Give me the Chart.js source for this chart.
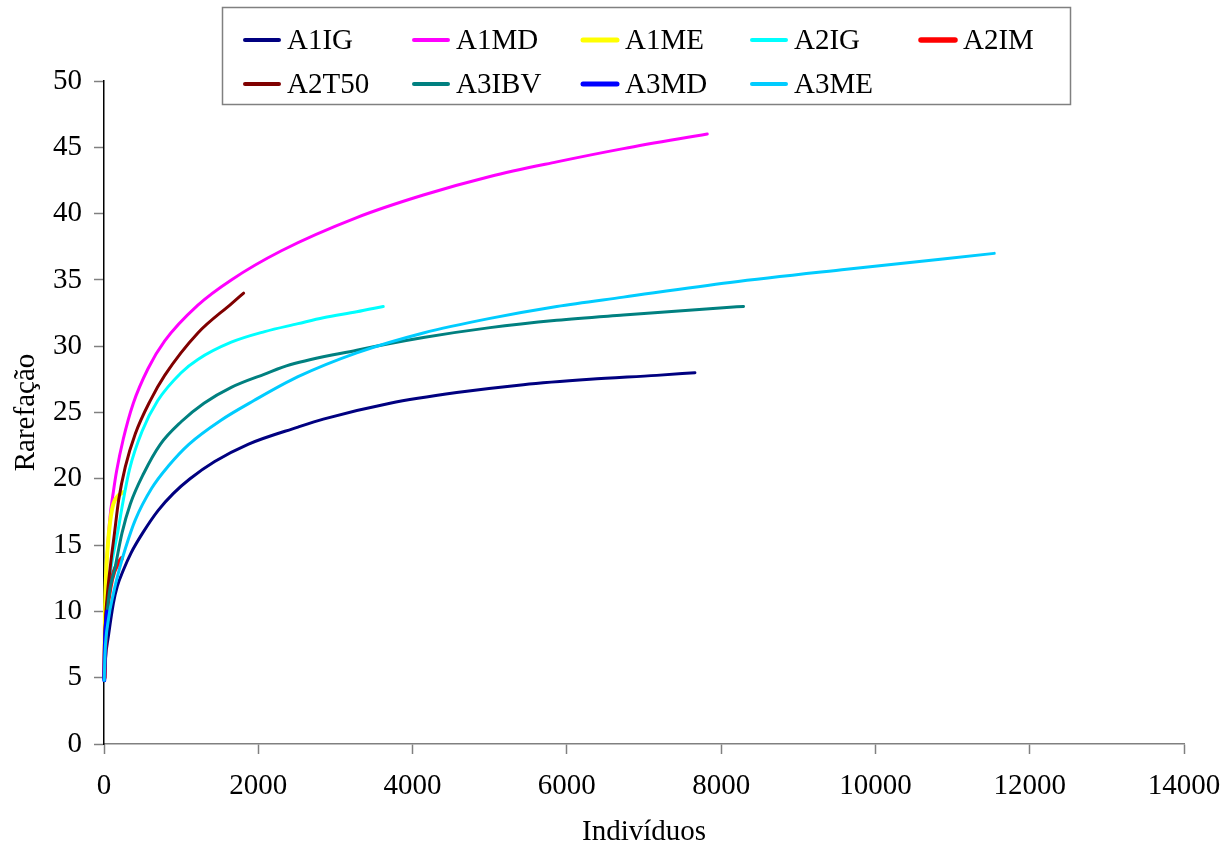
<!DOCTYPE html>
<html>
<head>
<meta charset="utf-8">
<script src="https://cdn.jsdelivr.net/npm/chart.js@4.4.1/dist/chart.umd.min.js"></script>
<style>
  html, body { margin: 0; padding: 0; background: #fff; }
  canvas { display: block; }
</style>
</head>
<body>
<canvas id="rarefactionChart" width="1224" height="847"></canvas>
<script>
// Series names, colours and line widths (legend order)
const seriesNames = ['A1IG', 'A1MD', 'A1ME', 'A2IG', 'A2IM', 'A2T50', 'A3IBV', 'A3MD', 'A3ME'];
const seriesColors = ['#000080', '#FF00FF', '#FFFF00', '#00FFFF', '#FF0000', '#800000', '#008080', '#0000FF', '#00CCFF'];
const seriesWidths = [3, 3, 4, 3, 4.5, 3, 3, 4, 3];

// Individuals (x) and rarefaction richness (y)
const a1igX = [5, 20, 56, 121, 173, 250, 350, 500, 700, 900, 1115, 1435, 1867, 2515, 2843, 3708, 4572, 5436, 6300, 7164, 7660];
const a1igY = [4.8, 6.5, 8.1, 10.6, 11.9, 13.1, 14.4, 15.9, 17.6, 18.9, 20.0, 21.3, 22.6, 23.9, 24.5, 25.7, 26.5, 27.1, 27.5, 27.8, 28.0];

const a1mdX = [5, 15, 35, 78, 121, 164, 250, 380, 570, 787, 1217, 1650, 2300, 3276, 4140, 5004, 5869, 6732, 7820];
const a1mdY = [5, 9.5, 13.5, 17.1, 19.0, 20.6, 23.0, 25.7, 28.3, 30.4, 33.1, 35.0, 37.2, 39.7, 41.4, 42.8, 43.9, 44.9, 46.0];

const a1meX = [5, 12, 25, 50, 80, 121, 180, 250];
const a1meY = [5, 9.5, 12.5, 15, 16.8, 18.1, 18.7, 19.0];

const a2igX = [5, 20, 50, 100, 179, 244, 330, 495, 697, 1000, 1217, 1650, 2083, 2515, 2843, 3276, 3620];
const a2igY = [5, 8.5, 11.3, 13.6, 16.0, 18.2, 20.7, 23.6, 25.9, 28.0, 29.0, 30.3, 31.1, 31.7, 32.15, 32.6, 33.0];

const a2imX = [5, 15, 40, 80, 130, 180, 230];
const a2imY = [5, 7.5, 10, 11.8, 13.0, 13.6, 14.0];

const a2t50X = [5, 15, 40, 82, 136, 190, 276, 406, 600, 787, 1217, 1650, 1810];
const a2t50Y = [5, 8.5, 11.0, 13.4, 15.9, 18.4, 20.9, 23.4, 25.9, 27.8, 31.0, 33.2, 34.0];

const a3ibvX = [5, 20, 60, 147, 233, 341, 514, 730, 1000, 1296, 1650, 2083, 2411, 3276, 4140, 5004, 5869, 6732, 8029, 8290];
const a3ibvY = [5, 8, 11, 13.4, 15.9, 18.1, 20.4, 22.6, 24.3, 25.7, 26.9, 27.9, 28.6, 29.7, 30.65, 31.4, 31.95, 32.35, 32.9, 33.0];

const a3mdX = [3, 8, 15, 25, 40];
const a3mdY = [4.8, 6.5, 8, 9, 10];

const a3meX = [3, 13, 56, 120, 200, 280, 406, 620, 840, 1100, 1512, 1944, 2515, 3276, 4140, 5004, 5869, 6732, 8115, 9627, 11540];
const a3meY = [4.8, 6.8, 9.35, 11.3, 13.2, 14.8, 16.9, 19.3, 21.0, 22.6, 24.4, 25.9, 27.7, 29.5, 31.0, 32.1, 33.0, 33.7, 34.8, 35.8, 37.0];

const seriesX = [a1igX, a1mdX, a1meX, a2igX, a2imX, a2t50X, a3ibvX, a3mdX, a3meX];
const seriesY = [a1igY, a1mdY, a1meY, a2igY, a2imY, a2t50Y, a3ibvY, a3mdY, a3meY];

const serifFont = "'Liberation Serif', 'Times New Roman', serif";

// Excel-style legend: fixed grid of 5 columns inside a framed box
const gridLegend = {
    id: 'gridLegend',
    afterDraw(chart) {
        const ctx = chart.ctx;
        ctx.save();
        ctx.fillStyle = '#ffffff';
        ctx.fillRect(222, 7, 848, 97);
        ctx.strokeStyle = '#808080';
        ctx.lineWidth = 1.5;
        ctx.strokeRect(222.5, 7.5, 848, 97);

        ctx.font = '29px ' + serifFont;
        ctx.textBaseline = 'middle';
        ctx.textAlign = 'left';
        chart.data.datasets.forEach(function (ds, i) {
            const col = i % 5;
            const row = Math.floor(i / 5);
            const x = 243 + col * 169;
            const y = 40 + row * 44;
            ctx.strokeStyle = ds.borderColor;
            ctx.lineWidth = ds.borderWidth + 1;
            ctx.lineCap = 'round';
            ctx.beginPath();
            ctx.moveTo(x + 2, y);
            ctx.lineTo(x + 36, y);
            ctx.stroke();
            ctx.fillStyle = '#000';
            ctx.fillText(ds.label, x + 44, y + 1);
        });
        ctx.restore();
    }
};

const datasets = seriesNames.map(function (name, i) {
    return {
        label: name,
        data: seriesX[i].map(function (x, j) { return { x: x, y: seriesY[i][j] }; }),
        borderColor: seriesColors[i],
        backgroundColor: seriesColors[i],
        borderWidth: seriesWidths[i],
        borderCapStyle: 'round',
        pointRadius: 0,
        cubicInterpolationMode: 'monotone',
        fill: false,
        clip: 4,
        order: seriesNames.length - i // later series on top, like Excel
    };
});

new Chart(document.getElementById('rarefactionChart'), {
    type: 'line',
    data: { datasets: datasets },
    plugins: [gridLegend],
    options: {
        responsive: false,
        animation: false,
        devicePixelRatio: 1,
        layout: { padding: { left: 0, right: 40, top: 81, bottom: 0 } },
        plugins: {
            legend: { display: false },
            tooltip: { enabled: false }
        },
        scales: {
            x: {
                type: 'linear',
                min: 0,
                max: 14000,
                ticks: {
                    stepSize: 2000,
                    padding: 15,
                    color: '#000',
                    maxRotation: 0,
                    font: { family: serifFont, size: 29 },
                    callback: function (value) { return String(value); }
                },
                grid: {
                    drawOnChartArea: false,
                    drawTicks: true,
                    tickLength: 10,
                    tickColor: '#808080',
                    tickWidth: 1.5
                },
                border: { color: '#808080', width: 1.5 },
                title: {
                    display: true,
                    text: 'Indivíduos',
                    color: '#000',
                    padding: 0,
                    font: { family: serifFont, size: 29, lineHeight: 1 }
                },
                afterFit: function (scale) {
                    scale.height = 103;
                    scale.paddingLeft = 0;
                    scale.paddingRight = 0;
                }
            },
            y: {
                min: 0,
                max: 50,
                ticks: {
                    stepSize: 5,
                    padding: 12,
                    color: '#000',
                    font: { family: serifFont, size: 29 }
                },
                grid: {
                    drawOnChartArea: false,
                    drawTicks: true,
                    tickLength: 10,
                    tickColor: '#808080',
                    tickWidth: 1.5
                },
                border: { color: '#000000', width: 1.5 },
                title: {
                    display: true,
                    text: 'Rarefação',
                    color: '#000',
                    padding: { top: 12, bottom: 0 },
                    font: { family: serifFont, size: 29, lineHeight: 1 }
                },
                afterFit: function (scale) { scale.width = 104; }
            }
        }
    }
});
</script>
</body>
</html>
